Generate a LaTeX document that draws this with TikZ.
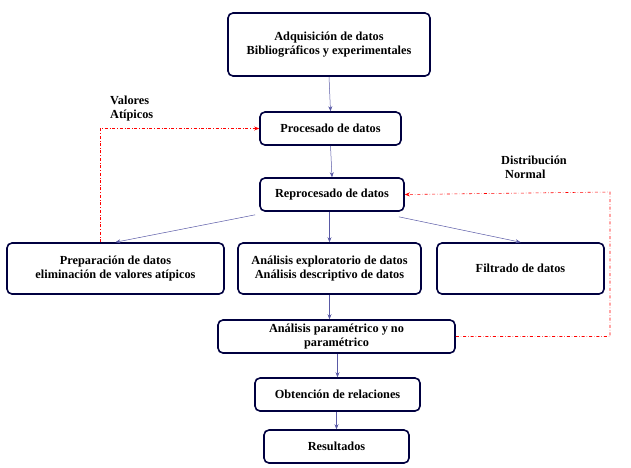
\documentclass[tikz,border=0pt]{standalone}
\usepackage{fontspec}
\setmainfont{Liberation Serif}
\usetikzlibrary{arrows.meta}
\begin{document}
\begin{tikzpicture}[x=1pt,y=-1pt,
 box/.style={draw=black!75!blue,line width=1.6pt,rounded corners=5pt,fill=white,align=center,font=\fontsize{12.3}{13.5}\selectfont\bfseries,inner sep=0pt},
 blu/.style={draw=blue!30!gray,-{Stealth[length=5pt,width=4pt]},line width=0.5pt},
 red/.style={draw=red,dash dot,-{Stealth[length=5pt,width=4pt]},line width=0.6pt},
 lab/.style={font=\fontsize{12.3}{13.5}\selectfont\bfseries,align=left,inner sep=0pt}]
\useasboundingbox (0,0) rectangle (631,467);
\node[box,minimum width=202,minimum height=63] (a) at (329,44.5) {Adquisición de datos\\Bibliográficos y experimentales};
\node[box,minimum width=141,minimum height=33] (p) at (330.5,128.5) {Procesado de datos};
\node[box,minimum width=144,minimum height=33] (r) at (332,194.5) {Reprocesado de datos};
\node[box,minimum width=217,minimum height=51] (e) at (115.5,268.5) {Preparación de datos\\eliminación de valores atípicos};
\node[box,minimum width=183,minimum height=51] (x) at (329.5,268.5) {Análisis exploratorio de datos\\Análisis descriptivo de datos};
\node[box,minimum width=167,minimum height=51] (f) at (520.5,268.5) {Filtrado de datos};
\node[box,minimum width=237,minimum height=33] (m) at (336.5,336.5) {Análisis paramétrico y no\\paramétrico};
\node[box,minimum width=165,minimum height=33] (o) at (337.5,394.5) {Obtención de relaciones};
\node[box,minimum width=145,minimum height=33] (s) at (336.5,446.5) {Resultados};
\node[lab,anchor=north west] (l1) at (110,96) {Valores\\Atípicos};
\node[lab,anchor=north west] (l2) at (501,156) {Distribución\\\hspace*{4pt}Normal};
\draw[blu] (a.south) -- (p.north);
\draw[blu] (p.south) -- (r.north);
\draw[blu] ([xshift=-4pt,yshift=-3pt]r.south west) -- (e.north);
\draw[blu] (r.south -| x.north) -- (x.north);
\draw[blu] ([xshift=-6pt,yshift=-5pt]r.south east) -- (f.north);
\draw[blu] (x.south) -- (x.south |- m.north);
\draw[blu] (m.south -| o.north) -- (o.north);
\draw[blu] (o.south -| s.north) -- (s.north);
\draw[red] ([xshift=-15.5pt]e.north) |- (p.west);
\coordinate (c2) at (610,192);
\draw[red] (m.east) -| (c2) -- (r.east);
\end{tikzpicture}
\end{document}
